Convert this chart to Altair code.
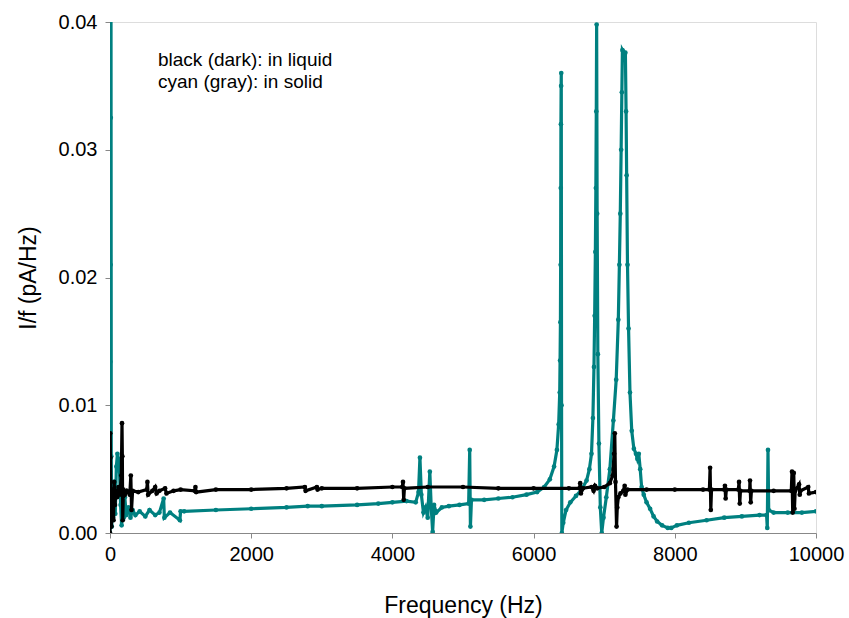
import altair as alt
import pandas as pd

# ---- data ----
solid_f = [0, 5, 8, 11, 14, 18, 25, 35, 45, 60, 75, 90, 105, 120, 135, 150, 165, 180, 195, 210,
           230, 260, 290, 320, 360, 420, 500, 560, 640, 700, 760, 770, 850, 990, 1000, 1050, 1500,
           2000, 2500, 2800, 3000, 3500, 3800, 4000, 4200, 4330, 4370, 4390, 4410, 4440, 4470,
           4500, 4530, 4550, 4570, 4590, 4620, 4700, 4800, 4950, 5080, 5095, 5105, 5120, 5300,
           5500, 5700, 5900, 6050, 6150, 6230, 6290, 6330, 6355, 6370, 6375, 6380, 6383, 6385,
           6387, 6390, 6392, 6396, 6400, 6420, 6460, 6520, 6600, 6680, 6750, 6790, 6820, 6840,
           6855, 6865, 6875, 6882, 6888, 6893, 6900, 6910, 6925, 6945, 6965, 6990, 7030, 7080,
           7130, 7170, 7200, 7215, 7228, 7240, 7250, 7258, 7268, 7300, 7310, 7318, 7330, 7345,
           7365, 7390, 7420, 7450, 7470, 7490, 7510, 7530, 7560, 7600, 7650, 7700, 7750, 7820,
           7900, 7950, 8030, 8200, 8450, 8700, 8950, 9200, 9300, 9310, 9320, 9330, 9400, 9600,
           9800, 10000]
solid_v = [0.0000, 0.0134, 0.0210, 0.0325, 0.0450, 0.0060, 0.0005, 0.0030, 0.0012, 0.0040,
           0.0015, 0.0052, 0.0062, 0.0058, 0.0048, 0.0022, 0.0006, 0.0030, 0.0012, 0.0028,
           0.0014, 0.0020, 0.0012, 0.0018, 0.0014, 0.0017, 0.0013, 0.0018, 0.0014, 0.0016,
           0.0027, 0.0012, 0.0016, 0.0010, 0.0017, 0.0017, 0.0018,
           0.0019, 0.0020, 0.0021, 0.0021, 0.0022, 0.0023, 0.0024, 0.0025, 0.0024, 0.0032,
           0.0059, 0.0030, 0.0016, 0.0020,
           0.0012, 0.0048, 0.0020, 0.0001, 0.0022, 0.0016, 0.0020, 0.0021, 0.0022, 0.0023,
           0.0065, 0.0005, 0.0026, 0.0026,
           0.0027, 0.0028, 0.0030, 0.0032, 0.0036, 0.0042, 0.0052, 0.0065, 0.0085, 0.0110,
           0.0135, 0.0165, 0.0210, 0.0270,
           0.0320, 0.0350, 0.0360, 0.0100, 0.0000, 0.0008, 0.0018, 0.0024, 0.0029, 0.0034,
           0.0041, 0.0050, 0.0062, 0.0090,
           0.0130, 0.0170, 0.0220, 0.0270, 0.0330, 0.0398, 0.0250, 0.0140, 0.0070, 0.0020,
           0.0000, 0.0012, 0.0028, 0.0050,
           0.0088, 0.0120, 0.0167, 0.0210, 0.0250, 0.0300, 0.0345, 0.0378, 0.0377, 0.0376,
           0.0330, 0.0280, 0.0210, 0.0160,
           0.0110, 0.0080, 0.0066, 0.0062, 0.0058, 0.0062, 0.0050, 0.0036, 0.0030, 0.0024,
           0.0019, 0.0013, 0.0009, 0.0006,
           0.0004, 0.0004, 0.0006, 0.0008, 0.0010, 0.0012, 0.0013, 0.0014, 0.0014, 0.0004,
           0.0065, 0.0018, 0.0016, 0.0016,
           0.0016, 0.0017]

liquid_f = [0, 3, 6, 9, 12, 15, 20, 25, 30, 40, 50, 60, 70, 85, 100, 120, 140, 160, 170, 175,
            180, 190, 210, 240, 280, 295, 305, 320, 400, 520, 530, 540, 600, 640, 660, 700, 780,
            800, 900, 1000, 1200, 1210, 1220, 1500, 2000, 2500, 2760, 2770, 2930, 2940, 3000,
            3500, 4000, 4140, 4150, 4160, 4170, 4500, 5000, 5500, 6000, 6500, 6650, 6660, 6670,
            6700, 6820, 6850, 6870, 6900, 7000, 7080, 7120, 7140, 7150, 7160, 7175, 7185, 7200,
            7230, 7270, 7290, 7300, 7330, 7600, 8000, 8400, 8490, 8500, 8510, 8520, 8700, 8710,
            8720, 8730, 8900, 8910, 8920, 8930, 9060, 9065, 9075, 9085, 9400, 9650, 9660, 9670,
            9685, 9695, 9705, 9760, 9770, 9780, 9890, 9900, 10000]
liquid_v = [0.0000, 0.0078, 0.0059, 0.0040, 0.0020, 0.0034, 0.0005, 0.0030, 0.0018, 0.0034,
            0.0010, 0.0040, 0.0022, 0.0033, 0.0028, 0.0036, 0.0030, 0.0045, 0.0086, 0.0060,
            0.0010, 0.0034, 0.0030, 0.0033, 0.0030, 0.0045, 0.0018, 0.0033, 0.0032, 0.0034,
            0.0040, 0.0030, 0.0033, 0.0036, 0.0031, 0.0033, 0.0035,
            0.0031, 0.0033, 0.0034, 0.0033, 0.0036, 0.0032, 0.0034, 0.0034, 0.0035, 0.0036,
            0.0033, 0.0036, 0.0034, 0.0035,
            0.0035, 0.0036, 0.0036, 0.0040, 0.0026, 0.0035, 0.0036, 0.0036, 0.0035, 0.0035,
            0.0035, 0.0035, 0.0039, 0.0031,
            0.0035, 0.0036, 0.0033, 0.0037, 0.0035, 0.0036, 0.0039, 0.0045, 0.0062, 0.0078,
            0.0040, 0.0005, 0.0020, 0.0028,
            0.0031, 0.0033, 0.0037, 0.0030, 0.0034, 0.0034, 0.0034, 0.0034, 0.0034, 0.0051,
            0.0018, 0.0034, 0.0034, 0.0037,
            0.0027, 0.0034, 0.0034, 0.0040, 0.0023, 0.0033, 0.0033, 0.0041, 0.0024, 0.0033,
            0.0033, 0.0033, 0.0048, 0.0016,
            0.0047, 0.0019, 0.0033, 0.0038, 0.0030, 0.0033, 0.0036, 0.0031, 0.0032]

x_ticks = [0, 2000, 4000, 6000, 8000, 10000]
y_ticks = [0.00, 0.01, 0.02, 0.03, 0.04]
note_lines = ["black (dark): in liquid", "cyan (gray): in solid"]

FONT = "Liberation Sans"
TEAL = "#008080"

solid = pd.DataFrame({"f": solid_f, "v": solid_v, "i": range(len(solid_f))})
liquid = pd.DataFrame({"f": liquid_f, "v": liquid_v, "i": range(len(liquid_f))})

x_enc = alt.X("f:Q", scale=alt.Scale(domain=[0, 10000], nice=False),
              axis=alt.Axis(values=x_ticks, format="d", title="Frequency (Hz)", grid=False,
                            labelFontSize=20, titleFontSize=23, labelPadding=6,
                            titleFontWeight="normal",
                            titleX=353, titleY=72, titleBaseline="middle",
                            labelFlush=False, labelOverlap=False))
y_enc = alt.Y("v:Q", scale=alt.Scale(domain=[0, 0.04], nice=False),
              axis=alt.Axis(values=y_ticks, format=".2f", title="I/f (pA/Hz)", grid=False,
                            labelFontSize=20, titleFontSize=23, labelPadding=8,
                            titleFontWeight="normal",
                            titleX=-82, titleY=255.5, titleAngle=-90,
                            titleAlign="center", titleBaseline="middle"))


def series(df, color):
    line = alt.Chart(df).mark_line(color=color, strokeWidth=3.2, clip=True).encode(
        x=x_enc, y=y_enc, order="i:Q")
    pts = alt.Chart(df).mark_point(color=color, filled=True, size=22, opacity=1,
                                   clip=True).encode(x=x_enc, y=y_enc)
    return line + pts


def note(text, ypix):
    df = pd.DataFrame({"t": [text]})
    return alt.Chart(df).mark_text(align="left", baseline="middle", fontSize=19,
                                   font=FONT, color="black").encode(
        x=alt.value(48), y=alt.value(ypix), text="t:N")


chart = alt.layer(
    series(solid, TEAL), series(liquid, "black"),
    note(note_lines[0], 38), note(note_lines[1], 60)
).properties(
    width=706, height=511,
    padding={"left": 110, "top": 22, "right": 33, "bottom": 85},
    autosize=alt.AutoSizeParams(type="none"),
).configure_view(
    stroke="black", strokeWidth=1
).configure_axis(
    domainColor="black", tickColor="black", labelColor="black", titleColor="black",
    grid=False, tickSize=6, labelFont=FONT, titleFont=FONT, titleFontWeight="normal",
    domainWidth=1, tickWidth=1
).configure(background="white")

chart.save("out.html", embed_options={"renderer": "svg", "actions": False})
